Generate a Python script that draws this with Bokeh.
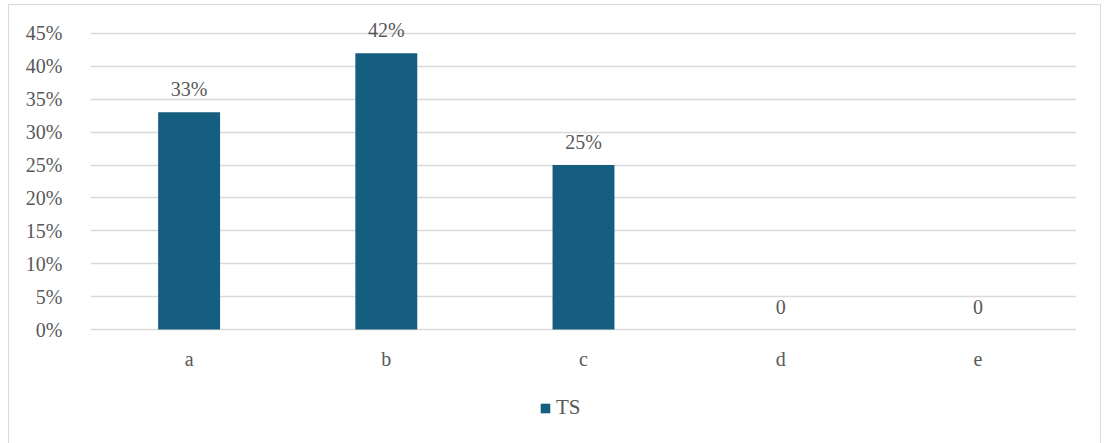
from bokeh.plotting import figure
from bokeh.models import ColumnDataSource, LabelSet, Legend, LegendItem, FixedTicker, CustomJSTickFormatter
from bokeh.embed import file_html
from bokeh.resources import INLINE

# Share of responses per option, in percent
categories = ["a", "b", "c", "d", "e"]
ts_values = [33, 42, 25, 0, 0]
y_ticks = [0, 5, 10, 15, 20, 25, 30, 35, 40, 45]

FONT = "Liberation Serif"
TEXT_COLOR = "#595959"
BAR_COLOR = "#165E7F"
GRID_COLOR = "#D9D9D9"

labels = [f"{v}%" if v else "0" for v in ts_values]
source = ColumnDataSource(data=dict(cat=categories, val=ts_values, label=labels))

# The frame reaches above 45% for the value labels and below 0% for the
# category axis and the legend; the x axis is pinned to the 0% line.
p = figure(
    x_range=categories,
    y_range=(-16.565, 49.24),
    frame_width=986,
    frame_height=433,
    min_border_left=81,
    min_border_right=24,
    min_border_top=0,
    min_border_bottom=12,
    output_backend="svg",
    toolbar_location=None,
    background_fill_color="white",
    border_fill_color="white",
)
p.margin = (4, 0, 0, 8)
p.styles = {"border": "1px solid #D9D9D9", "box-sizing": "content-box"}
p.outline_line_color = None

bars = p.vbar(x="cat", top="val", width=0.314, source=source,
              fill_color=BAR_COLOR, line_color=None)

# Value labels above each bar
p.add_layout(LabelSet(x="cat", y="val", text="label", source=source,
                      y_offset=16, text_align="center", text_baseline="alphabetic",
                      text_font=FONT, text_font_size="20px", text_color=TEXT_COLOR))

# Axes
p.yaxis.ticker = FixedTicker(ticks=y_ticks)
p.yaxis.formatter = CustomJSTickFormatter(code="return tick + '%';")
p.xaxis.fixed_location = 0
for ax in (p.xaxis[0], p.yaxis[0]):
    ax.axis_line_color = None
    ax.major_tick_line_color = None
    ax.minor_tick_line_color = None
    ax.major_label_text_font = FONT
    ax.major_label_text_font_size = "20px"
    ax.major_label_text_color = TEXT_COLOR
p.yaxis.major_label_standoff = 22
p.xaxis.major_label_standoff = 12

p.xgrid.grid_line_color = None
p.ygrid.ticker = FixedTicker(ticks=y_ticks)
p.ygrid.grid_line_color = GRID_COLOR
p.ygrid.grid_line_width = 1.5

legend = Legend(items=[LegendItem(label="TS", renderers=[bars])],
                location=(449, 18), orientation="horizontal",
                glyph_width=12, glyph_height=12, label_standoff=5,
                label_text_font=FONT, label_text_font_size="21px",
                label_text_color=TEXT_COLOR, border_line_color=None,
                background_fill_alpha=0, padding=0, margin=0)
p.add_layout(legend, "center")

open("out.html", "w").write(file_html(p, INLINE))
